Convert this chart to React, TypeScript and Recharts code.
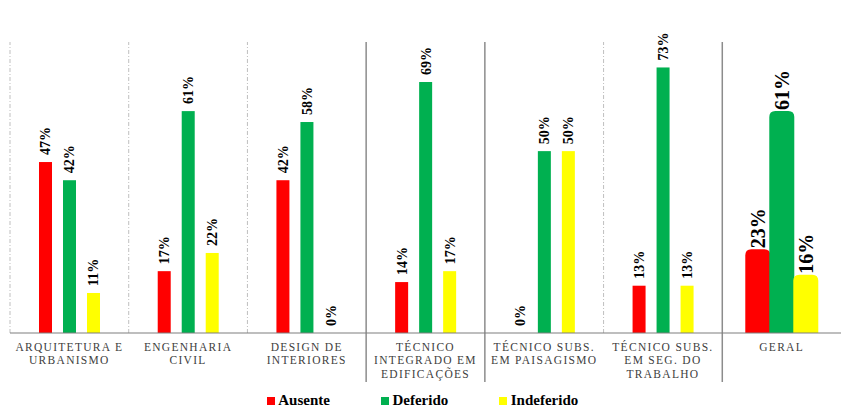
import React from 'react';
import { BarChart, Bar, XAxis, YAxis, LabelList, ReferenceLine, Legend } from 'recharts';

const categories = [
  'ARQUITETURA E\nURBANISMO',
  'ENGENHARIA\nCIVIL',
  'DESIGN DE\nINTERIORES',
  'TÉCNICO\nINTEGRADO EM\nEDIFICAÇÕES',
  'TÉCNICO SUBS.\nEM PAISAGISMO',
  'TÉCNICO SUBS.\nEM SEG. DO\nTRABALHO',
  'GERAL',
];
const ausente = [47, 17, 42, 14, 0, 13, 23];
const deferido = [42, 61, 58, 69, 50, 73, 61];
const indeferido = [11, 22, 0, 17, 50, 13, 16];

// group left edges that get a divider: thin dashed / solid section line
const dashedDividers = [0, 1, 2, 5];
const solidDividers = [3, 4, 6];

const SERIES = [
  { key: 'ausente', name: 'Ausente', color: '#FF0000' },
  { key: 'deferido', name: 'Deferido', color: '#00B050' },
  { key: 'indeferido', name: 'Indeferido', color: '#FFFF00' },
];

const data = categories.map((name, i) => ({
  name,
  ausente: ausente[i],
  deferido: deferido[i],
  indeferido: indeferido[i],
}));

const serif = "'Liberation Serif', 'Times New Roman', serif";
const SUMMARY = 'GERAL';

// GERAL bars are wider with rounded tops, like the original
const makeShape = (color: string) => (props: any) => {
  const { x, y, width, height, payload } = props;
  if (!height || height <= 0) return null;
  if (payload?.name !== SUMMARY) {
    return <rect x={x} y={y} width={width} height={height} fill={color} />;
  }
  const w = 25;
  const cx = x + width / 2;
  const l = cx - w / 2;
  const r = 6;
  const b = y + height;
  const d = `M${l},${b} L${l},${y + r} Q${l},${y} ${l + r},${y} L${l + w - r},${y} Q${l + w},${y} ${l + w},${y + r} L${l + w},${b} Z`;
  return <path d={d} fill={color} />;
};

const renderLabel = (props: any) => {
  const { x, y, width, value, index } = props;
  const big = categories[index] === SUMMARY;
  const size = big ? 20 : 14;
  const cx = x + width / 2 + (big ? 7 : 5);
  const cy = y - (big ? 1 : 7);
  return (
    <text
      x={cx}
      y={cy}
      transform={`rotate(-90, ${cx}, ${cy})`}
      style={{ fontFamily: serif, fontWeight: 'bold', fontSize: size }}
      fill="#000"
      textAnchor="start"
    >
      {`${value}%`}
    </text>
  );
};

const CategoryTick = (props: any) => {
  const { x, y, payload } = props;
  const lines = String(payload.value).split('\n');
  return (
    <text
      x={x}
      y={y}
      textAnchor="middle"
      style={{ fontFamily: serif, fontSize: 11.5, letterSpacing: 1.3 }}
      fill="#404040"
    >
      {lines.map((line, i) => (
        <tspan key={i} x={x} dy={i === 0 ? 18 : 13.3}>
          {line}
        </tspan>
      ))}
    </text>
  );
};

const LegendContent = () => (
  <div
    style={{
      display: 'flex',
      justifyContent: 'center',
      gap: 51,
      fontFamily: serif,
      fontWeight: 'bold',
      fontSize: 15,
      color: '#000',
      paddingRight: 6,
    }}
  >
    {SERIES.map((s) => (
      <div key={s.key} style={{ display: 'flex', alignItems: 'center' }}>
        <span style={{ width: 8, height: 8, background: s.color, marginRight: 3.5, display: 'inline-block' }} />
        <span>{s.name}</span>
      </div>
    ))}
  </div>
);

export default function App() {
  return (
    <div style={{ position: 'absolute', left: 0, top: 0, background: '#fff' }}>
      <BarChart
        width={841}
        height={412}
        data={data}
        margin={{ top: 42, right: 0, left: 10, bottom: 0 }}
        barSize={13}
        barGap={11}
      >
        <XAxis
          dataKey="name"
          interval={0}
          height={59}
          tickLine={false}
          tickSize={0}
          tickMargin={0}
          axisLine={{ stroke: '#7F7F7F', strokeWidth: 1.2 }}
          tick={<CategoryTick />}
        />
        <YAxis hide domain={[0, 80]} allowDataOverflow />
        {dashedDividers.map((i) => (
          <ReferenceLine
            key={`d${i}`}
            position="start"
            segment={[{ x: categories[i], y: 0 }, { x: categories[i], y: 80 }]}
            stroke="#BFBFBF"
            strokeDasharray="4 2 1 2"
            strokeWidth={1}
          />
        ))}
        {solidDividers.map((i) => (
          <ReferenceLine
            key={`s${i}`}
            position="start"
            segment={[{ x: categories[i], y: -13.5 }, { x: categories[i], y: 80 }]}
            ifOverflow="visible"
            stroke="#8C8C8C"
            strokeWidth={1.5}
          />
        ))}
        <Legend verticalAlign="bottom" height={20} content={<LegendContent />} />
        {SERIES.map((s) => (
          <Bar
            key={s.key}
            dataKey={s.key}
            name={s.name}
            fill={s.color}
            shape={makeShape(s.color)}
            isAnimationActive={false}
          >
            <LabelList dataKey={s.key} content={renderLabel} />
          </Bar>
        ))}
      </BarChart>
    </div>
  );
}
